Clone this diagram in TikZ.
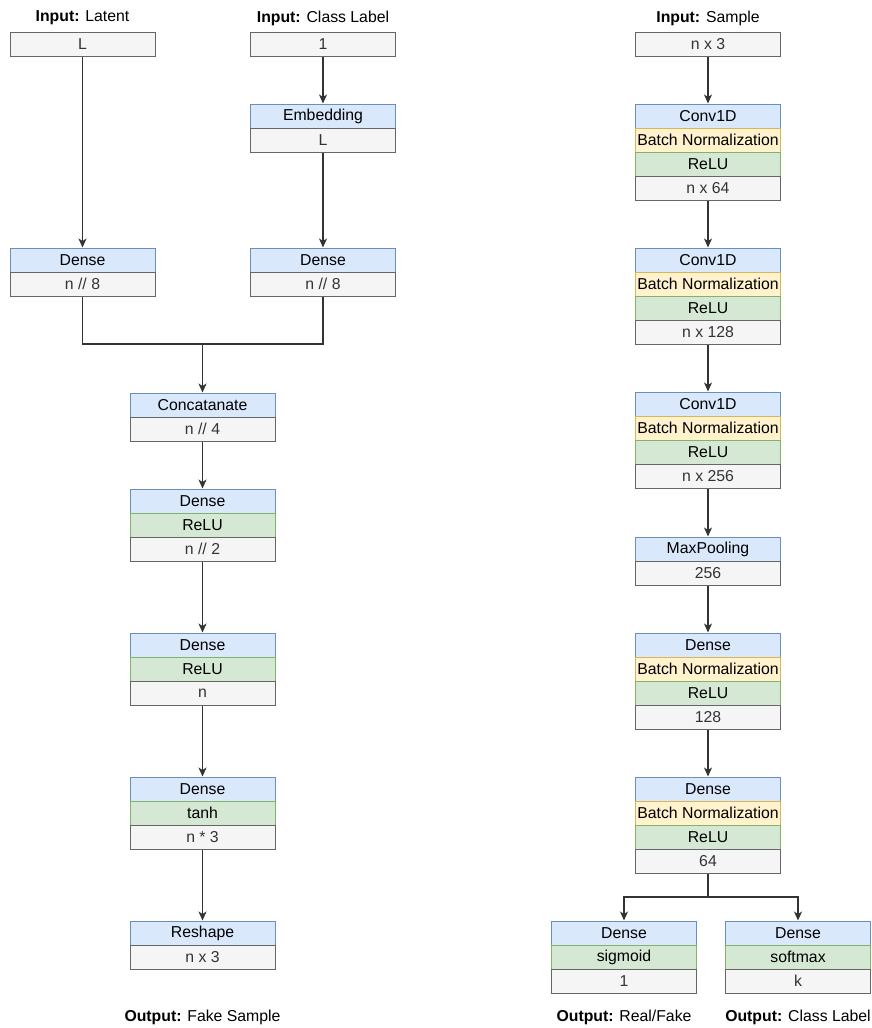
\documentclass[tikz,border=0pt]{standalone}
\usepackage{fontspec}
\setmainfont{Liberation Sans}
\usetikzlibrary{arrows.meta}
\definecolor{lyrfill}{HTML}{DAE8FC}
\definecolor{lyrline}{HTML}{6C8EBF}
\definecolor{bnfill}{HTML}{FFF2CC}
\definecolor{bnline}{HTML}{D6B656}
\definecolor{actfill}{HTML}{D5E8D4}
\definecolor{actline}{HTML}{82B366}
\definecolor{dimfill}{HTML}{F5F5F5}
\definecolor{dimline}{HTML}{666666}
\definecolor{dimtext}{HTML}{333333}
\definecolor{wire}{HTML}{333333}
\newcommand{\lyrfont}{\fontsize{15.8}{18}\selectfont}
\tikzset{
    every node/.style={inner sep=0pt, font=\lyrfont},
    cell/.style={rectangle, draw, line width=1pt, minimum width=145pt,
        minimum height=24pt},
    lyr/.style={cell, fill=lyrfill, draw=lyrline},
    bn/.style={cell, fill=bnfill, draw=bnline},
    act/.style={cell, fill=actfill, draw=actline},
    dim/.style={cell, fill=dimfill, draw=dimline, text=dimtext}
}
\tikzset{
    link/.style={line width=1.2pt, draw=wire},
    flow/.style={link, -{Stealth[length=9pt, width=8pt, inset=2.5pt]}}
}

\begin{document}
\begin{tikzpicture}[x=1pt, y=-1pt]
  \useasboundingbox (0, 0) rectangle (871, 1028);

  % generator
  \node (inL) at (82.5, 18) {\textbf{Input:} Latent};
  \node (latent) [dim] at (82.5, 44) {L};
  \node (inC) at (323, 18) {\textbf{Input:} Class Label};
  \node (cls) [dim] at (323, 44) {1};
  \node (emb) [lyr] at (323, 116) {Embedding};
  \node (embD) [dim] at (323, 140) {L};
  \node (dnsA) [lyr] at (82.5, 260) {Dense};
  \node (dnsAD) [dim] at (82.5, 284) {n // 8};
  \node (dnsB) [lyr] at (323, 260) {Dense};
  \node (dnsBD) [dim] at (323, 284) {n // 8};
  \coordinate (mrg) at (202.5, 344);
  \node (cat) [lyr] at (202.5, 405) {Concatanate};
  \node (catD) [dim] at (202.5, 429) {n // 4};
  \node (g1) [lyr] at (202.5, 501) {Dense};
  \node (g1A) [act] at (202.5, 525) {ReLU};
  \node (g1D) [dim] at (202.5, 549) {n // 2};
  \node (g2) [lyr] at (202.5, 645) {Dense};
  \node (g2A) [act] at (202.5, 669) {ReLU};
  \node (g2D) [dim] at (202.5, 693) {n};
  \node (g3) [lyr] at (202.5, 789) {Dense};
  \node (g3A) [act] at (202.5, 813) {tanh};
  \node (g3D) [dim] at (202.5, 837) {n * 3};
  \node (rs) [lyr] at (202.5, 933) {Reshape};
  \node (rsD) [dim] at (202.5, 957) {n x 3};
  \node (outG) at (202.5, 1017) {\textbf{Output:} Fake Sample};

  % discriminator
  \node (inS) at (708, 18) {\textbf{Input:} Sample};
  \node (smp) [dim] at (708, 44) {n x 3};
  \node (c1) [lyr] at (708, 116) {Conv1D};
  \node (c1B) [bn] at (708, 140) {Batch Normalization};
  \node (c1A) [act] at (708, 164) {ReLU};
  \node (c1D) [dim] at (708, 188) {n x 64};
  \node (c2) [lyr] at (708, 260) {Conv1D};
  \node (c2B) [bn] at (708, 284) {Batch Normalization};
  \node (c2A) [act] at (708, 308) {ReLU};
  \node (c2D) [dim] at (708, 332) {n x 128};
  \node (c3) [lyr] at (708, 404) {Conv1D};
  \node (c3B) [bn] at (708, 428) {Batch Normalization};
  \node (c3A) [act] at (708, 452) {ReLU};
  \node (c3D) [dim] at (708, 476) {n x 256};
  \node (mp) [lyr] at (708, 549) {MaxPooling};
  \node (mpD) [dim] at (708, 573) {256};
  \node (d1) [lyr] at (708, 645) {Dense};
  \node (d1B) [bn] at (708, 669) {Batch Normalization};
  \node (d1A) [act] at (708, 693) {ReLU};
  \node (d1D) [dim] at (708, 717) {128};
  \node (d2) [lyr] at (708, 789) {Dense};
  \node (d2B) [bn] at (708, 813) {Batch Normalization};
  \node (d2A) [act] at (708, 837) {ReLU};
  \node (d2D) [dim] at (708, 861) {64};
  \coordinate (spl) at (708, 897);
  \node (o1) [lyr] at (624, 933) {Dense};
  \node (o1A) [act] at (624, 957) {sigmoid};
  \node (o1D) [dim] at (624, 981) {1};
  \node (o2) [lyr] at (798, 933) {Dense};
  \node (o2A) [act] at (798, 957) {softmax};
  \node (o2D) [dim] at (798, 981) {k};
  \node (outR) at (624, 1017) {\textbf{Output:} Real/Fake};
  \node (outC) at (798, 1017) {\textbf{Output:} Class Label};

  \draw[flow] (latent) -- (dnsA);
  \draw[flow] (cls) -- (emb);
  \draw[flow] (embD) -- (dnsB);
  \draw[link] (dnsAD) |- (mrg); \draw[link] (dnsBD) |- (mrg);
  \draw[flow] (mrg) -- (cat);
  \draw[flow] (catD) -- (g1); \draw[flow] (g1D) -- (g2);
  \draw[flow] (g2D) -- (g3); \draw[flow] (g3D) -- (rs);

  \draw[flow] (smp) -- (c1); \draw[flow] (c1D) -- (c2);
  \draw[flow] (c2D) -- (c3); \draw[flow] (c3D) -- (mp);
  \draw[flow] (mpD) -- (d1); \draw[flow] (d1D) -- (d2);
  \draw[link] (d2D) -- (spl);
  \draw[flow] (spl) -| (o1); \draw[flow] (spl) -| (o2);
\end{tikzpicture}
\end{document}
